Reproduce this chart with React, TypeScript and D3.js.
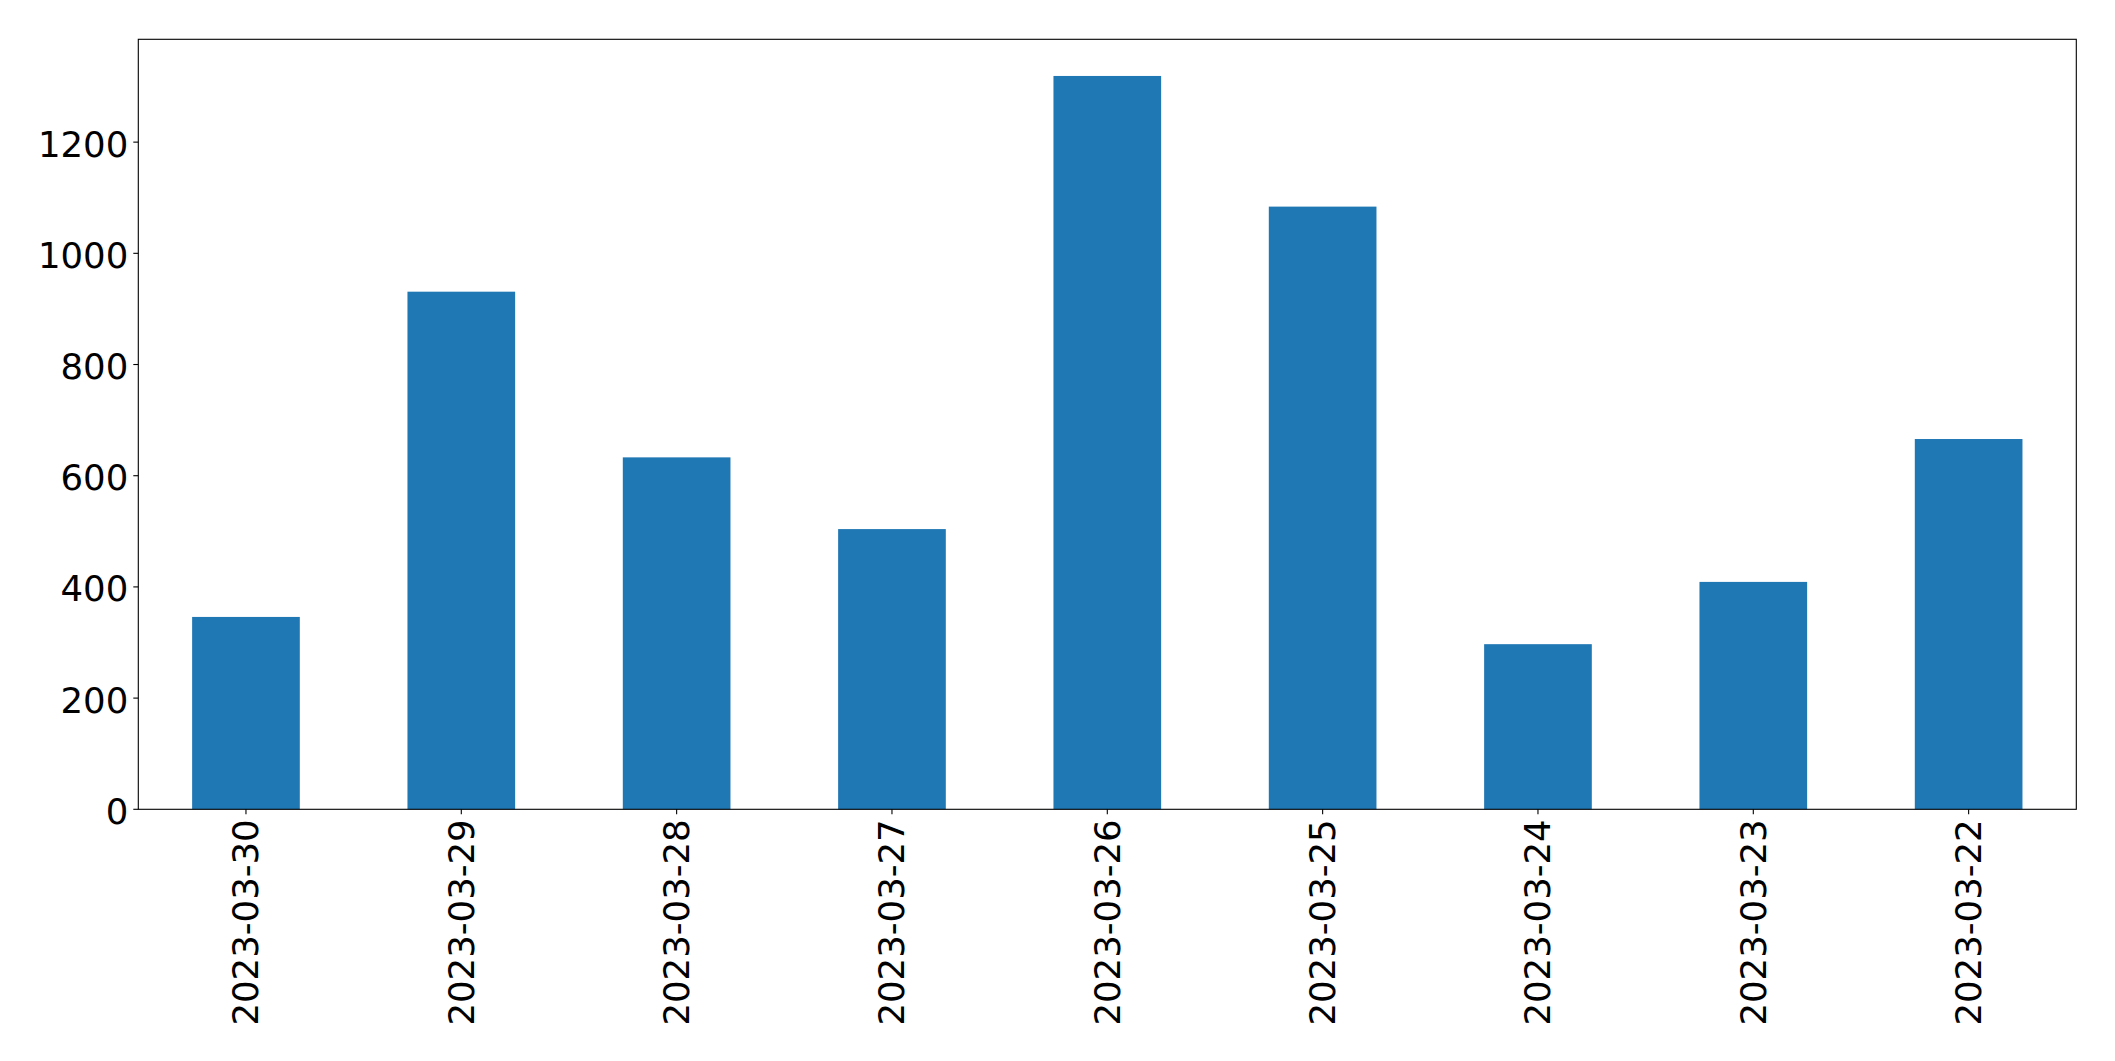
import React from "react";
import * as d3 from "d3";

const categories = ["2023-03-30", "2023-03-29", "2023-03-28", "2023-03-27", "2023-03-26", "2023-03-25", "2023-03-24", "2023-03-23", "2023-03-22"];
const values = [346, 931, 633, 504, 1319, 1084, 297, 409, 666];
const yTicks = [0, 200, 400, 600, 800, 1000, 1200];

const W = 2115;
const H = 1061;
const left = 138.3;
const right = 2076.3;
const top = 39.3;
const bottom = 809.3;
const FONT = "DejaVu Sans, sans-serif";
const FS = 35.5;

export default function App() {
  const yMax = d3.max(values)! * 1.05;
  const y = d3.scaleLinear().domain([0, yMax]).range([bottom, top]);
  const x = d3.scaleLinear().domain([-0.5, categories.length - 0.5]).range([left, right]);
  const bw = (x(1) - x(0)) * 0.5;
  return (
    <svg width={W} height={H} style={{ position: "absolute", left: 0, top: 0, background: "#fff" }}>
      <rect x={0} y={0} width={W} height={H} fill="#fff" />
      {values.map((v, i) => (
        <rect key={i} x={x(i) - bw / 2} y={y(v)} width={bw} height={y(0) - y(v)} fill="#1f77b4" />
      ))}
      <rect x={left} y={top} width={right - left} height={bottom - top} fill="none" stroke="#000" strokeWidth={1.1} />
      {yTicks.map((t) => (
        <g key={t}>
          <line x1={left - 5} x2={left} y1={y(t)} y2={y(t)} stroke="#000" strokeWidth={1.1} />
          <text x={left - 10} y={y(t) + 2} textAnchor="end" dominantBaseline="central" fontFamily={FONT} fontSize={FS} fill="#000">
            {t}
          </text>
        </g>
      ))}
      {categories.map((c, i) => (
        <g key={c}>
          <line x1={x(i)} x2={x(i)} y1={bottom} y2={bottom + 5} stroke="#000" strokeWidth={1.1} />
          <text
            transform={`translate(${x(i)},${bottom + 10}) rotate(-90)`}
            textAnchor="end"
            dominantBaseline="central"
            fontFamily={FONT}
            fontSize={FS}
            fill="#000"
          >
            {c}
          </text>
        </g>
      ))}
    </svg>
  );
}
